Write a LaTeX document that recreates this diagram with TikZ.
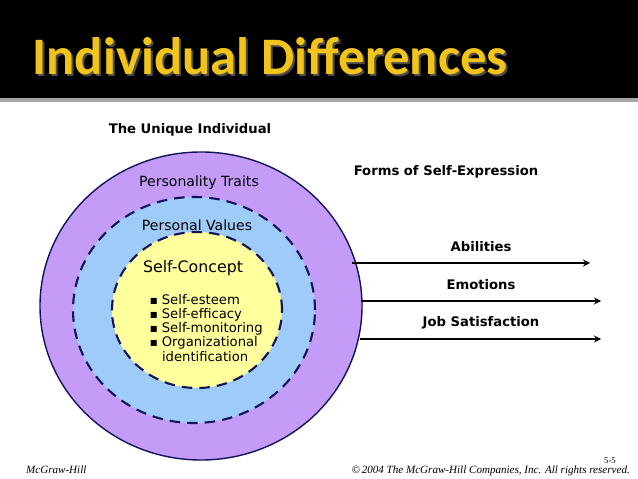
\documentclass[tikz,border=0pt]{standalone}
\usepackage{fontspec}
\setmainfont{DejaVu Sans}
\newfontfamily\titlefont{Carlito}
\newfontfamily\footfont{Liberation Serif}
\usetikzlibrary{positioning}
\usetikzlibrary{shapes.geometric}
\definecolor{titlegold}{HTML}{F2C31A}
\definecolor{ringpurple}{HTML}{C49CF7}
\definecolor{ringblue}{HTML}{9ECBF8}
\definecolor{ringyellow}{HTML}{FFFF9E}
\definecolor{ringline}{HTML}{13135A}
\newcommand{\bul}{\raisebox{0.15ex}{\fontsize{4.5}{5}\selectfont ■}\ }
\tikzset{
  % rings of the individual
  ring/.style={draw=ringline, ellipse, inner sep=0pt},
  dashring/.style={ring, dashed, very thick, dash pattern=on 6pt off 4pt},
  label/.style={font=\fontsize{8}{9}\selectfont},
  boldlabel/.style={font=\fontsize{7.5}{9}\bfseries\selectfont},
  foot/.style={font=\footfont\fontsize{6.3}{7}\itshape\selectfont},
  form/.style={->, >=stealth, thick},
}
\begin{document}
\begin{tikzpicture}[x=0.02cm, y=-0.02cm]
      \useasboundingbox (0,0) rectangle (638,479);
      \fill[black] (0,0) rectangle (638,98);
      \fill[gray!70] (0,98) rectangle (638,102);

      \node[font=\titlefont\fontsize{30}{32}\bfseries\selectfont, text=black!70] at (272,58) {Individual Differences};
      \node[font=\titlefont\fontsize{30}{32}\bfseries\selectfont, text=titlegold] (title) at (270,56) {Individual Differences};

      \node[ring, fill=ringpurple, thick, minimum width=322*0.02cm, minimum height=308*0.02cm] (outer) at (201,306) {};
      \node[dashring, fill=ringblue, minimum width=242*0.02cm, minimum height=226*0.02cm] (middle) at (194,310) {};
      \node[dashring, fill=ringyellow, minimum width=170*0.02cm, minimum height=156*0.02cm] (inner) at (197,310) {};

      \node[boldlabel] (unique) at (190,130) {The Unique Individual};
      \node[label] (traits) at (199,183) {Personality Traits};
      \node[label] (values) at (197,225) {Personal Values};
      \node[label, font=\fontsize{9}{10}\selectfont] (concept) at (193,268) {Self-Concept};
      \node[label, anchor=north west, align=left, font=\fontsize{7.5}{8.1}\selectfont] (list) at (144,288)
        {\bul Self-esteem\\ \bul Self-efficacy\\ \bul Self-monitoring\\ \bul Organizational\\ \hspace{0.9em}identification};

      \node[boldlabel] (forms) at (446,172) {Forms of Self-Expression};
      \coordinate (a1) at (352,263);
      \coordinate (b1) at (590,263);
      \coordinate (a2) at (361,301);
      \coordinate (b2) at (601,301);
      \coordinate (a3) at (360,339);
      \coordinate (b3) at (601,339);
      \draw[form] (a1) -- (b1);
      \draw[form] (a2) -- (b2);
      \draw[form] (a3) -- (b3);
      \node[boldlabel] (abilities) at (481,247) {Abilities};
      \node[boldlabel] (emotions) at (481,285) {Emotions};
      \node[boldlabel] (job) at (481,323) {Job Satisfaction};

      \node[foot, anchor=west] (publisher) at (20,470) {McGraw-Hill};
      \node[foot, anchor=east] (copy) at (636,471) {\textcopyright\,2004 The McGraw-Hill Companies, Inc. All rights reserved.};
      \node[foot, font=\footfont\fontsize{5}{6}\selectfont] (page) at (610,461) {5-5};
\end{tikzpicture}
\end{document}
